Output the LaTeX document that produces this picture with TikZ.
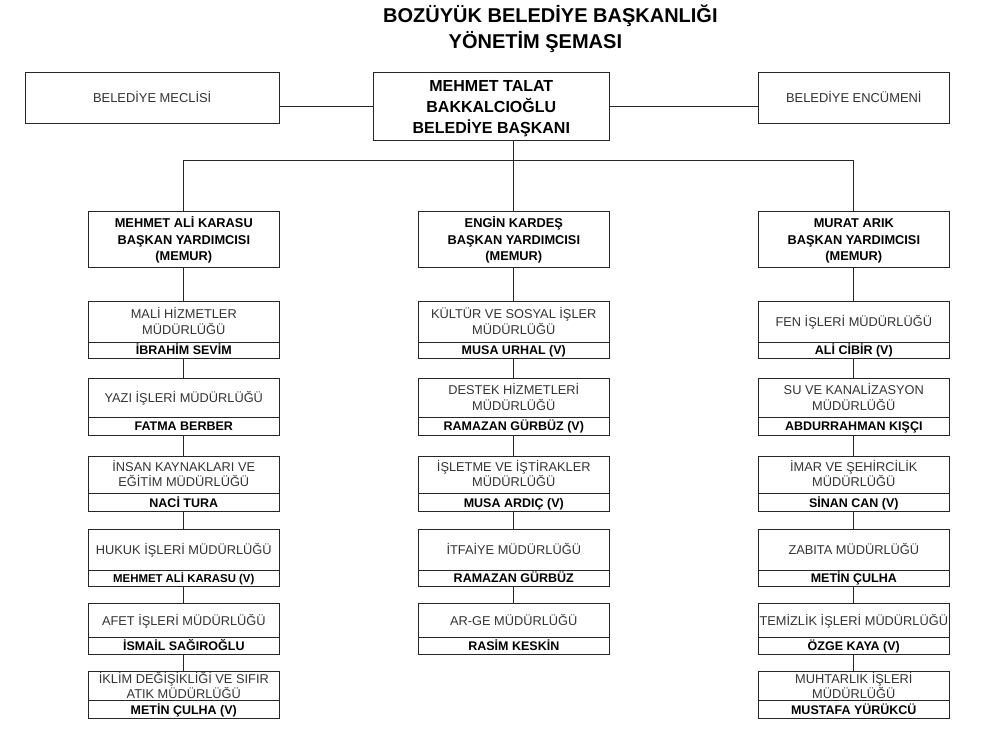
\documentclass[tikz,border=0pt]{standalone}
\usepackage{fontspec}
\setmainfont{Liberation Sans}
\usetikzlibrary{positioning}
\tikzset{
box/.style={rectangle,draw=black!85,line width=1pt,outer sep=0pt,inner xsep=0pt,inner ysep=0pt,align=center,minimum width=191pt},
title/.style={font=\bfseries\fontsize{20}{24}\selectfont,inner sep=0pt},
chief/.style={box,font=\bfseries\fontsize{16}{20.8}\selectfont,minimum width=236pt,minimum height=68pt,text height=53.1pt,text depth=0pt},
side/.style={box,text=black!80,font=\fontsize{12.9}{15.3}\selectfont,minimum height=50.6pt,text height=9.2pt,text depth=0pt},
head/.style={box,font=\bfseries\fontsize{12.8}{16.9}\selectfont,minimum height=55.6pt,text height=43pt,text depth=0pt},
dept/.style={box,text=black!80,font=\fontsize{12.8}{15.3}\selectfont,text height=9.2pt,text depth=0pt},
twoline/.style={text height=24.5pt},
person/.style={box,font=\bfseries\fontsize{12.5}{15}\selectfont,text height=9pt,text depth=0pt},
link/.style={draw=black!85,line width=1pt},
}

\begin{document}
\begin{tikzpicture}[x=1pt,y=-1pt]
\useasboundingbox (0,0) rectangle (983,754);

\node[title,anchor=base] (titel) at (550.4,22.7) {BOZÜYÜK BELEDİYE BAŞKANLIĞI};
\node[title,anchor=base] (subtitel) at (535.4,49) {YÖNETİM ŞEMASI};

% top row
\node[chief] (baskan) at (491.3,106.7) {MEHMET TALAT\\BAKKALCIOĞLU\\BELEDİYE BAŞKANI};
\node[side,minimum width=254.3pt] (meclis) at (152.2,98) {BELEDİYE MECLİSİ};
\node[side] (encumen) at (853.8,98) {BELEDİYE ENCÜMENİ};

% deputies
\node[head] (yrd-a) at (183.8,239.5) {MEHMET ALİ KARASU\\BAŞKAN YARDIMCISI\\(MEMUR)};
\node[head] (yrd-b) at (513.8,239.5) {ENGİN KARDEŞ\\BAŞKAN YARDIMCISI\\(MEMUR)};
\node[head] (yrd-c) at (853.8,239.5) {MURAT ARIK\\BAŞKAN YARDIMCISI\\(MEMUR)};

% left column
\node[dept,twoline,minimum height=40.3pt,below=34.4pt of yrd-a] (mali) {MALİ HİZMETLER\\MÜDÜRLÜĞÜ};
\node[person,minimum height=16.3pt,below=0pt of mali] (mali-ad) {İBRAHİM SEVİM};
\node[dept,minimum height=38.5pt,below=20.2pt of mali-ad] (yazi) {YAZI İŞLERİ MÜDÜRLÜĞÜ};
\node[person,minimum height=18pt,below=0pt of yazi] (yazi-ad) {FATMA BERBER};
\node[dept,twoline,minimum height=37.3pt,below=21pt of yazi-ad] (insan) {İNSAN KAYNAKLARI VE\\EĞİTİM MÜDÜRLÜĞÜ};
\node[person,minimum height=18.4pt,below=0pt of insan] (insan-ad) {NACİ TURA};
\node[dept,minimum height=40.7pt,below=17.6pt of insan-ad] (hukuk) {HUKUK İŞLERİ MÜDÜRLÜĞÜ};
\node[person,minimum height=16.7pt,below=0pt of hukuk,font=\bfseries\fontsize{11.4}{14}\selectfont,text height=8.2pt] (hukuk-ad) {MEHMET ALİ KARASU (V)};
\node[dept,minimum height=34.4pt,below=16.6pt of hukuk-ad] (afet) {AFET İŞLERİ MÜDÜRLÜĞÜ};
\node[person,minimum height=16.3pt,below=0pt of afet] (afet-ad) {İSMAİL SAĞIROĞLU};
\node[dept,twoline,minimum height=29pt,below=17.7pt of afet-ad] (iklim) {İKLİM DEĞİŞİKLİĞİ VE SIFIR\\ATIK MÜDÜRLÜĞÜ};
\node[person,minimum height=17.6pt,below=0pt of iklim] (iklim-ad) {METİN ÇULHA (V)};

% middle column
\node[dept,twoline,minimum height=40.3pt,below=34.4pt of yrd-b] (kultur) {KÜLTÜR VE SOSYAL İŞLER\\MÜDÜRLÜĞÜ};
\node[person,minimum height=16.3pt,below=0pt of kultur] (kultur-ad) {MUSA URHAL (V)};
\node[dept,twoline,minimum height=38.5pt,below=20.2pt of kultur-ad] (destek) {DESTEK HİZMETLERİ\\MÜDÜRLÜĞÜ};
\node[person,minimum height=18pt,below=0pt of destek] (destek-ad) {RAMAZAN GÜRBÜZ (V)};
\node[dept,twoline,minimum height=37.3pt,below=21pt of destek-ad] (isletme) {İŞLETME VE İŞTİRAKLER\\MÜDÜRLÜĞÜ};
\node[person,minimum height=18.4pt,below=0pt of isletme] (isletme-ad) {MUSA ARDIÇ (V)};
\node[dept,minimum height=40.7pt,below=17.6pt of isletme-ad] (itfaiye) {İTFAİYE MÜDÜRLÜĞÜ};
\node[person,minimum height=16.7pt,below=0pt of itfaiye] (itfaiye-ad) {RAMAZAN GÜRBÜZ};
\node[dept,minimum height=34.4pt,below=16.6pt of itfaiye-ad] (arge) {AR-GE MÜDÜRLÜĞÜ};
\node[person,minimum height=16.3pt,below=0pt of arge] (arge-ad) {RASİM KESKİN};

% right column
\node[dept,minimum height=40.3pt,below=34.4pt of yrd-c] (fen) {FEN İŞLERİ MÜDÜRLÜĞÜ};
\node[person,minimum height=16.3pt,below=0pt of fen] (fen-ad) {ALİ CİBİR (V)};
\node[dept,twoline,minimum height=38.5pt,below=20.2pt of fen-ad] (su) {SU VE KANALİZASYON\\MÜDÜRLÜĞÜ};
\node[person,minimum height=18pt,below=0pt of su] (su-ad) {ABDURRAHMAN KIŞÇI};
\node[dept,twoline,minimum height=37.3pt,below=21pt of su-ad] (imar) {İMAR VE ŞEHİRCİLİK\\MÜDÜRLÜĞÜ};
\node[person,minimum height=18.4pt,below=0pt of imar] (imar-ad) {SİNAN CAN (V)};
\node[dept,minimum height=40.7pt,below=17.6pt of imar-ad] (zabita) {ZABITA MÜDÜRLÜĞÜ};
\node[person,minimum height=16.7pt,below=0pt of zabita] (zabita-ad) {METİN ÇULHA};
\node[dept,minimum height=34.4pt,below=16.6pt of zabita-ad] (temizlik) {TEMİZLİK İŞLERİ MÜDÜRLÜĞÜ};
\node[person,minimum height=16.3pt,below=0pt of temizlik] (temizlik-ad) {ÖZGE KAYA (V)};
\node[dept,twoline,minimum height=29pt,below=17.7pt of temizlik-ad] (muhtar) {MUHTARLIK İŞLERİ\\MÜDÜRLÜĞÜ};
\node[person,minimum height=17.6pt,below=0pt of muhtar] (muhtar-ad) {MUSTAFA YÜRÜKCÜ};

% connectors
\draw[link] (baskan.west) -- (baskan.west -| meclis.east);
\draw[link] (baskan.east) -- (baskan.east -| encumen.west);
\coordinate (bus) at (513.8,160.7);
\draw[link] (yrd-a.north) |- (bus) -| (yrd-c.north);
\draw[link] (baskan.south -| bus) -- (yrd-b.north);
\foreach \a/\b in {yrd-a/mali,mali-ad/yazi,yazi-ad/insan,insan-ad/hukuk,hukuk-ad/afet,afet-ad/iklim,
  yrd-b/kultur,kultur-ad/destek,destek-ad/isletme,isletme-ad/itfaiye,itfaiye-ad/arge,
  yrd-c/fen,fen-ad/su,su-ad/imar,imar-ad/zabita,zabita-ad/temizlik,temizlik-ad/muhtar}
  \draw[link] (\a.south) -- (\b.north);
\end{tikzpicture}
\end{document}
